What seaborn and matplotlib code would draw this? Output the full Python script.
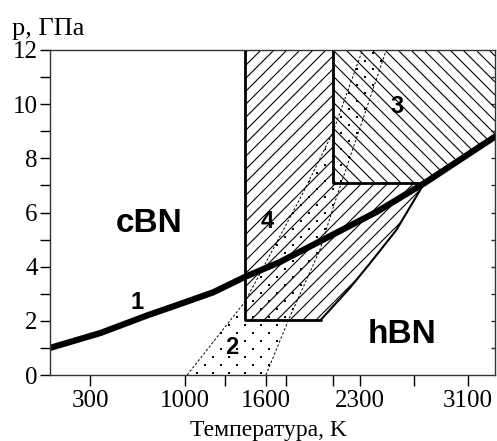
import numpy as np
import seaborn as sns
import matplotlib.pyplot as plt
from matplotlib.patches import Polygon
from matplotlib.collections import LineCollection

# line 1: cBN / hBN equilibrium curve
line_T = [0, 374, 721, 964, 1209, 1445, 1704, 2050, 2421, 2775, 3300]
line_p = [1.0, 1.55, 2.2, 2.62, 3.05, 3.62, 4.17, 5.06, 6.02, 7.08, 8.8]

# region 2: dotted band, left and right edges (bottom -> top)
band_left_T = [1017, 1445, 1874, 2096, 2317]
band_left_p = [0, 2.7, 6.7, 8.94, 12]
band_right_T = [1601, 1778, 2000, 2125, 2494]
band_right_p = [0, 2.14, 4.6, 6.57, 12]

# region 4 outline
reg4_T = [1445, 1445, 2007, 2221, 2369, 2568, 2775, 2096, 2096]
reg4_p = [12, 2.03, 2.03, 3.2, 4.1, 5.35, 7.08, 7.08, 12]

# region 3 outline (lower right edge runs along line 1)
reg3_T = [2096, 2096, 2775, 3300, 3300]
reg3_p = [12, 7.08, 7.08, 8.8, 12]

x_ticks = [300, 1000, 1300, 1600, 1750, 2100, 2300, 2700, 3100]
x_labels = ['300', '1000', '', '1600', '', '', '2300', '', '3100']
y_ticks = [0, 2, 4, 6, 8, 10, 12]
y_minor = [1, 3, 5, 7, 9, 11]

sns.set_style('ticks')
plt.rcParams['font.family'] = ['Liberation Serif', 'DejaVu Serif']

fig = plt.figure(figsize=(4.97, 4.41), dpi=100)
W, H = 445, 325
ax = fig.add_axes([50 / 497, 66 / 441, W / 497, H / 441])
ax.set_xlim(0, 3300)
ax.set_ylim(0, 12)


def clip_patch(T, p):
    patch = Polygon(np.column_stack([T, p]), closed=True, fill=False, lw=0)
    ax.add_patch(patch)
    return patch


def hatch(T, p, direction, step=13, lw=0.8):
    patch = clip_patch(T, p)
    segs = []
    for c in np.arange(-W - H, W + H, step):
        if direction == '/':
            segs.append([(0, c / H), (1, (c + W) / H)])
        else:
            segs.append([(0, c / H), (1, (c - W) / H)])
    lc = LineCollection(segs, colors='black', linewidths=lw,
                        transform=ax.transAxes)
    ax.add_collection(lc, autolim=False)
    lc.set_clip_path(patch)


def dots(T, p, row=8, col=16):
    # staggered dot screen, clipped to the band
    patch = clip_patch(T, p)
    xs, ys = [], []
    for j, y in enumerate(np.arange(2, H, row)):
        off = col / 2 if j % 2 else 0
        for x in np.arange(off + 3, W, col):
            xs.append(x / W)
            ys.append(y / H)
    sc = ax.scatter(xs, ys, s=1.0, c='black', marker='s', lw=0,
                    transform=ax.transAxes)
    sc.set_clip_path(patch)


# hatched regions 4 and 3
hatch(reg4_T, reg4_p, '/')
hatch(reg3_T, reg3_p, '\\')

# dotted band 2
band_T = band_left_T + band_right_T[::-1]
band_p = band_left_p + band_right_p[::-1]
dots(band_T, band_p)
for bt, bp in [(band_left_T, band_left_p), (band_right_T, band_right_p)]:
    ax.plot(bt, bp, color='black', lw=0.7, ls=(0, (2.5, 2)))

# region outlines
ax.plot(reg4_T[:3], reg4_p[:3], color='black', lw=2)
ax.plot(reg4_T[2:7], reg4_p[2:7], color='black', lw=1.5)
ax.plot(reg3_T[:3], reg3_p[:3], color='black', lw=2)

# line 1
sns.lineplot(x=line_T, y=line_p, ax=ax, color='black', lw=4.5, sort=False)

# labels
sans = dict(family=['Liberation Sans', 'DejaVu Sans'], weight='bold',
            ha='center', va='center', color='black')
ax.text(736, 5.58, 'cBN', fontsize=24, **sans)
ax.text(2612, 1.48, 'hBN', fontsize=24, **sans)
ax.text(647, 2.68, '1', fontsize=17, **sans)
ax.text(1349, 1.0, '2', fontsize=17, **sans)
ax.text(2575, 9.9, '3', fontsize=17, **sans)
ax.text(1608, 5.65, '4', fontsize=17, **sans)

# axes styling
ax.set_xticks(x_ticks)
ax.set_xticklabels(x_labels)
ax.set_yticks(y_ticks)
ax.set_yticks(y_minor, minor=True)
ax.tick_params(axis='x', direction='out', length=8, width=1,
               labelsize=18, pad=3, colors='black')
ax.tick_params(axis='y', which='both', direction='out', length=7, width=1,
               labelsize=18, pad=2, colors='black')
for s in ax.spines.values():
    s.set_linewidth(1)
    s.set_color('#333333')

right = ax.secondary_yaxis('right')
right.set_yticks(list(range(1, 12)))
right.tick_params(direction='in', length=3, width=1, labelright=False)
right.spines['right'].set_visible(False)

ax.set_xlabel('Температура, K', fontsize=17, labelpad=0, color='black')
ax.xaxis.set_label_coords(0.49, -0.138)
ax.xaxis.label.set_va('top')
ax.set_ylabel('')
fig.text(12 / 497, 1 - 35 / 441, 'p, ГПа', ha='left', va='baseline',
         fontsize=19, color='black')

fig.savefig('out.png', dpi=100)
